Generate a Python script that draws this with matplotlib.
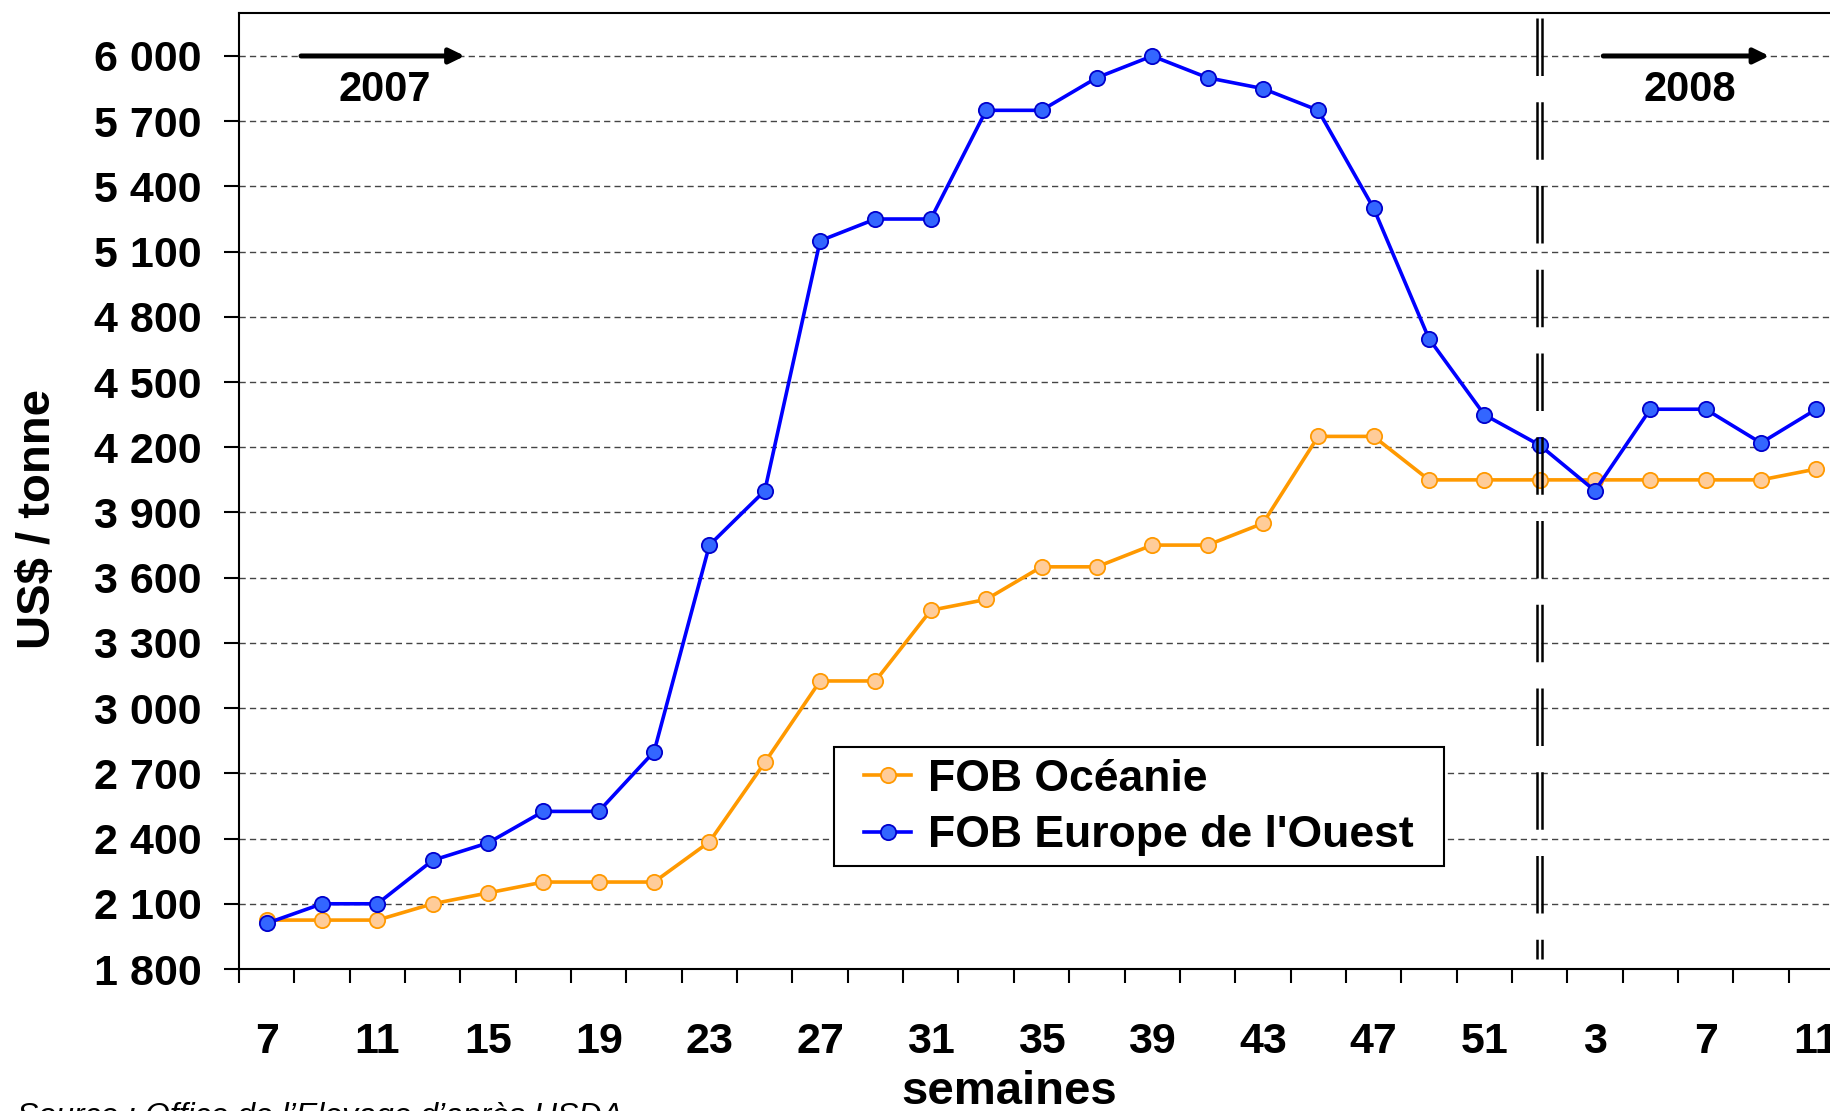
import matplotlib
matplotlib.use("Agg")
import matplotlib.pyplot as plt
from matplotlib.patches import Rectangle
from matplotlib.ticker import FuncFormatter

plt.rcParams['font.family'] = ['Liberation Sans', 'DejaVu Sans']
plt.rcParams['font.weight'] = 'bold'

# semaines 7..51 de 2007 puis 1..11 de 2008
semaines = [7, 9, 11, 13, 15, 17, 19, 21, 23, 25, 27, 29, 31, 33, 35, 37, 39, 41, 43, 45, 47, 49, 51,
            1, 3, 5, 7, 9, 11]
oceanie = [2025, 2025, 2025, 2100, 2150, 2200, 2200, 2200, 2385, 2750, 3125, 3125, 3450, 3500,
           3650, 3650, 3750, 3750, 3850, 4250, 4250, 4050, 4050,
           4050, 4050, 4050, 4050, 4050, 4100]
europe = [2010, 2100, 2100, 2300, 2380, 2525, 2525, 2800, 3750, 4000, 5150, 5250, 5250, 5750,
          5750, 5900, 6000, 5900, 5850, 5750, 5300, 4700, 4350,
          4210, 4000, 4375, 4375, 4220, 4375]
yticks = [1800, 2100, 2400, 2700, 3000, 3300, 3600, 3900, 4200, 4500, 4800, 5100, 5400, 5700, 6000]
debut_2008 = semaines.index(1)

x = list(range(len(semaines)))

W, H = 1831, 1111
fig = plt.figure(figsize=(W / 100, H / 100), dpi=100)
ax = fig.add_axes([239 / W, 1 - 969 / H, 1605 / W, (969 - 12.5) / H])

ax.plot(x, oceanie, color='#FF9900', lw=2.6, marker='o', ms=11,
        mfc='#FFCC99', mec='#FF9900', mew=1.3, label='FOB Océanie', zorder=3)
ax.plot(x, europe, color='#0000FF', lw=2.6, marker='o', ms=11,
        mfc='#3366FF', mec='#0000CC', mew=1.3, label="FOB Europe de l'Ouest", zorder=3)

ax.set_xlim(-0.5, len(semaines) - 0.5)
ax.set_ylim(1800, 6200)

# axe y
ax.set_yticks(yticks)
ax.yaxis.set_major_formatter(FuncFormatter(lambda v, p: f"{int(v):,}".replace(",", " ")))
ax.tick_params(axis='y', length=11, width=1.5, pad=16, labelsize=31)
ax.yaxis.grid(True, color='#444444', lw=1.0, linestyle=(0, (4.5, 3)))
ax.set_axisbelow(True)

# axe x : traits entre categories, etiquettes une semaine sur deux
ax.set_xticks([i - 0.5 for i in range(len(semaines) + 1)])
ax.set_xticklabels([])
ax.set_xticks(x[::2], [str(s) for s in semaines[::2]], minor=True)
ax.tick_params(axis='x', which='major', length=10, width=1.5)
ax.tick_params(axis='x', which='minor', length=0, pad=38, labelsize=31)

for s in ax.spines.values():
    s.set_linewidth(1.5)

ax.set_xlabel('semaines', fontsize=34, fontweight='bold', va='top')
ax.xaxis.set_label_coords(0.48, -0.106)
ax.set_ylabel('US$ / tonne', fontsize=34, fontweight='bold')
ax.yaxis.set_label_coords(-0.1114, 0.47)

# rupture 2007 / 2008
for dx in (-0.045, 0.045):
    ax.plot([debut_2008 + dx] * 2, [0.994, 0.01], transform=ax.get_xaxis_transform(),
            color='black', lw=1.8, linestyle=(0, (23, 10.5)), zorder=4)

arrow = dict(arrowstyle='-|>,head_length=0.45,head_width=0.22', lw=3.6, color='black',
             shrinkA=0, shrinkB=0, mutation_scale=20)
ax.annotate('', xy=(3.58, 6000), xytext=(0.62, 6000), arrowprops=arrow)
ax.annotate('', xy=(27.15, 6000), xytext=(24.15, 6000), arrowprops=arrow)
ax.text(2.14, 5845, '2007', fontsize=30, fontweight='bold', ha='center', va='center')
ax.text(25.72, 5845, '2008', fontsize=30, fontweight='bold', ha='center', va='center')

# cadre de legende
ax.add_patch(Rectangle((834 / W, 1 - 866 / H), 610 / W, 119 / H, transform=fig.transFigure,
                       facecolor='white', edgecolor='black', lw=1.5, clip_on=False, zorder=4.9))
leg = ax.legend(loc='center left', bbox_to_anchor=(864 / W, 1 - 807.5 / H),
                bbox_transform=fig.transFigure, borderaxespad=0, frameon=False,
                prop={'size': 32, 'weight': 'bold'}, handlelength=1.06, handletextpad=0.38,
                borderpad=0, labelspacing=0.35)
leg.set_zorder(5)

fig.text(17 / W, 1 - 1102 / H, "Source : Office de l’Elevage d’après USDA",
         fontsize=23, fontstyle='italic', fontweight='normal', va='top', ha='left')

fig.savefig('out.png', dpi=100)
